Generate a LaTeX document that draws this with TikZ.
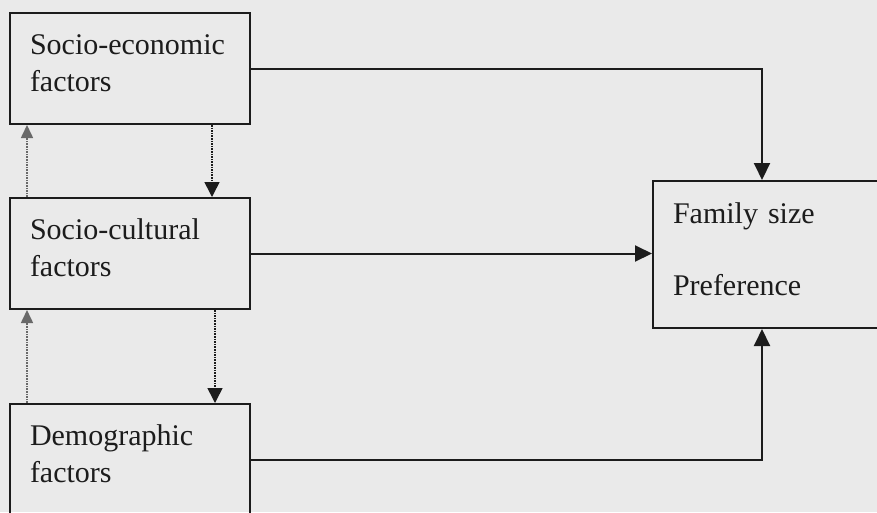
\documentclass[tikz,border=0pt]{standalone}
\usepackage{fontspec}
\setmainfont{Liberation Serif}
\usetikzlibrary{arrows.meta}
\definecolor{PaperGrey}{RGB}{234,234,234}
\definecolor{InkDark}{RGB}{28,28,28}
\definecolor{InkDots}{RGB}{105,105,105}
\colorlet{ColourBase}{InkDark}
\colorlet{ColourDot}{InkDots}
\tikzset{
  chart style/.style={
    x=1pt,
    y={(0,-1pt)},
    font=\fontsize{30}{37}\selectfont,
    text=ColourBase,
  },
  factor box/.style={
    draw=ColourBase,
    line width=2pt,
    anchor=north west,
    align=left,
    text width=200pt,
    inner xsep=20pt,
    minimum height=111pt,
    execute at end node={\rule[-11pt]{0pt}{11pt}},
  },
  outcome box/.style={
    factor box,
    text width=220pt,
    minimum height=147pt,
  },
  link/.style={
    draw=ColourBase,
    line width=2pt,
    -{Triangle[length=17pt,width=16pt]},
  },
  feedback/.style={
    draw=ColourDot,
    line width=1.6pt,
    densely dotted,
    -{Triangle[length=13pt,width=12pt]},
  },
  feedforward/.style={
    feedback,
    draw=ColourBase,
    -{Triangle[length=15pt,width=15pt]},
  },
}

\begin{document}
\begin{tikzpicture}[chart style]
  \fill[PaperGrey] (0,0) rectangle (877,512);
  \useasboundingbox (0,0) rectangle (877,512);
  % the three groups of factors
  \node[factor box] (eco)  at (9,12)  {Socio-economic\\factors};
  \node[factor box] (cult) at (9,197) {Socio-cultural\\factors};
  \node[factor box] (demo) at (9,403) {Demographic\\factors};
  % outcome
  \node[outcome box] (fam) at (652,180) {Family size\\[35pt]Preference};
  % direct links
  \draw[link] (eco.east)  -| ([xshift=110pt]fam.north west);
  \draw[link] (cult.east) -- (cult.east -| fam.west);
  \draw[link] (demo.east) -| ([xshift=110pt]fam.south west);
  % dotted links between factors
  \draw[feedback] ([xshift=18pt]cult.north west) -- ([xshift=18pt]eco.south west);
  \draw[feedback] ([xshift=18pt]demo.north west) -- ([xshift=18pt]cult.south west);
  \draw[feedforward] ([xshift=203pt]eco.south west) -- ([xshift=203pt]cult.north west);
  \draw[feedforward] ([xshift=206pt]cult.south west) -- ([xshift=206pt]demo.north west);
\end{tikzpicture}
\end{document}
